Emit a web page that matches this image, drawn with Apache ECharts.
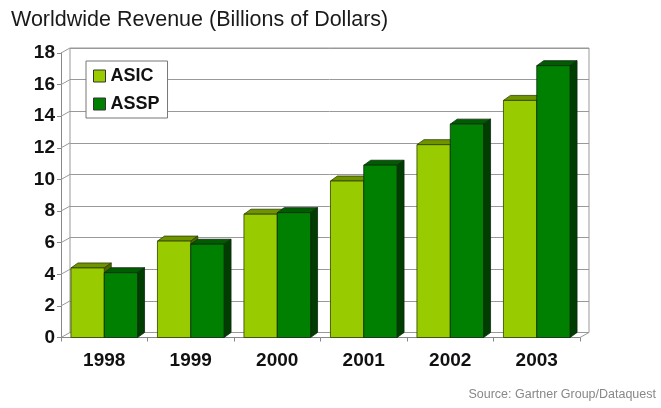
<!DOCTYPE html>
<html>
<head>
<meta charset="utf-8">
<script src="https://cdn.jsdelivr.net/npm/echarts@6/dist/echarts.min.js"></script>
<style>
html,body{margin:0;padding:0;background:#fff;}
#chart{width:661px;height:408px;}
</style>
</head>
<body>
<div id="chart"></div>
<script>
const years = ['1998', '1999', '2000', '2001', '2002', '2003'];
const asic = [4.4, 6.1, 7.8, 9.9, 12.2, 15.0];
const assp = [4.1, 5.9, 7.9, 10.9, 13.5, 17.2];
const yTicks = [0, 2, 4, 6, 8, 10, 12, 14, 16, 18];

const FONT = 'Liberation Sans, Arial, sans-serif';
const WALL_DX = 9, WALL_DY = 5;
const BAR_DX = 7, BAR_DY = 5;

function bar3D(side, colors) {
  return function (params, api) {
    const top = api.coord([api.value(0), api.value(1)]);
    const base = api.coord([api.value(0), 0]);
    const band = api.size([1, 0])[0];
    const bw = band * 0.385;
    const x0 = side < 0 ? top[0] - bw : top[0];
    const x1 = x0 + bw;
    const st = { stroke: colors.stroke, lineWidth: 0.8 };
    return {
      type: 'group',
      children: [
        { type: 'polygon', shape: { points: [[x0, top[1]], [x1, top[1]], [x1 + BAR_DX, top[1] - BAR_DY], [x0 + BAR_DX, top[1] - BAR_DY]] },
          style: Object.assign({ fill: colors.top }, st) },
        { type: 'polygon', shape: { points: [[x1, top[1]], [x1 + BAR_DX, top[1] - BAR_DY], [x1 + BAR_DX, base[1] - BAR_DY], [x1, base[1]]] },
          style: Object.assign({ fill: colors.side }, st) },
        { type: 'rect', shape: { x: x0, y: top[1], width: bw, height: base[1] - top[1] },
          style: Object.assign({ fill: colors.front }, st) }
      ]
    };
  };
}

const chart = echarts.init(document.getElementById('chart'));
chart.setOption({
  animation: false,
  backgroundColor: '#fff',
  title: [
    { text: 'Worldwide Revenue (Billions of Dollars)', left: 6, top: 4,
      textStyle: { fontFamily: FONT, fontSize: 21.5, fontWeight: 'normal', color: '#1a1a1a' } },
    { text: 'Source: Gartner Group/Dataquest', right: 0, bottom: 2,
      textStyle: { fontFamily: FONT, fontSize: 12.5, fontWeight: 'normal', color: '#888' } }
  ],
  legend: {
    orient: 'vertical', left: 86, top: 61,
    data: [
      { name: 'ASIC', icon: 'rect', itemStyle: { color: '#99cc00', borderColor: '#333', borderWidth: 1 } },
      { name: 'ASSP', icon: 'rect', itemStyle: { color: '#008000', borderColor: '#333', borderWidth: 1 } }
    ],
    itemWidth: 12, itemHeight: 12, itemGap: 10,
    padding: [6, 8, 5, 7],
    backgroundColor: '#fff', borderColor: '#777', borderWidth: 1,
    textStyle: { fontFamily: FONT, fontSize: 18, fontWeight: 'bold', color: '#111' }
  },
  grid: [
    { left: 61, right: 81, top: 53, bottom: 70.5 },
    { left: 61 + WALL_DX, right: 81 - WALL_DX, top: 53 - WALL_DY, bottom: 70.5 + WALL_DY,
      show: true, backgroundColor: '#fff', borderColor: '#999', borderWidth: 1, z: 0 }
  ],
  xAxis: [
    { type: 'category', gridIndex: 0, data: years,
      axisLine: { lineStyle: { color: '#888' } },
      axisTick: { show: true, length: 4, lineStyle: { color: '#888' } },
      axisLabel: { margin: 14, fontFamily: FONT, fontSize: 19, fontWeight: 'bold', color: '#111' } },
    { type: 'category', gridIndex: 1, data: years, show: false }
  ],
  yAxis: [
    { type: 'value', gridIndex: 0, min: 0, max: 18, interval: 2,
      axisLine: { show: true, lineStyle: { color: '#888' } },
      axisTick: { show: true, length: 4, lineStyle: { color: '#888' } },
      splitLine: { show: false },
      axisLabel: { margin: 6, fontFamily: FONT, fontSize: 19, fontWeight: 'bold', color: '#111' } },
    { type: 'value', gridIndex: 1, min: 0, max: 18, interval: 2,
      axisLine: { show: false }, axisTick: { show: false }, axisLabel: { show: false },
      splitLine: { show: true, lineStyle: { color: '#999', width: 1 } } }
  ],
  series: [
    { name: 'connectors', type: 'custom', xAxisIndex: 0, yAxisIndex: 0, silent: true,
      data: yTicks.map(v => [0, v]),
      renderItem: function (params, api) {
        const p = api.coord([0, api.value(1)]);
        const x = params.coordSys.x;
        return { type: 'line', shape: { x1: x, y1: p[1], x2: x + WALL_DX, y2: p[1] - WALL_DY },
          style: { stroke: '#999', lineWidth: 1 } };
      } },
    { name: 'floorCorner', type: 'custom', xAxisIndex: 0, yAxisIndex: 0, silent: true,
      data: [[0, 0]],
      renderItem: function (params, api) {
        const p = api.coord([0, 0]);
        const x = params.coordSys.x + params.coordSys.width;
        return { type: 'line', shape: { x1: x, y1: p[1], x2: x + WALL_DX, y2: p[1] - WALL_DY },
          style: { stroke: '#999', lineWidth: 1 } };
      } },
    { name: 'ASIC', type: 'custom', xAxisIndex: 0, yAxisIndex: 0,
      itemStyle: { color: '#99cc00' },
      data: asic.map((v, i) => [i, v]),
      renderItem: bar3D(-1, { front: '#99cc00', top: '#6f9400', side: '#4d6600', stroke: '#2f3f00' }) },
    { name: 'ASSP', type: 'custom', xAxisIndex: 0, yAxisIndex: 0,
      itemStyle: { color: '#008000' },
      data: assp.map((v, i) => [i, v]),
      renderItem: bar3D(1, { front: '#008000', top: '#005c00', side: '#003d00', stroke: '#0f2a0f' }) }
  ]
});
</script>
</body>
</html>
